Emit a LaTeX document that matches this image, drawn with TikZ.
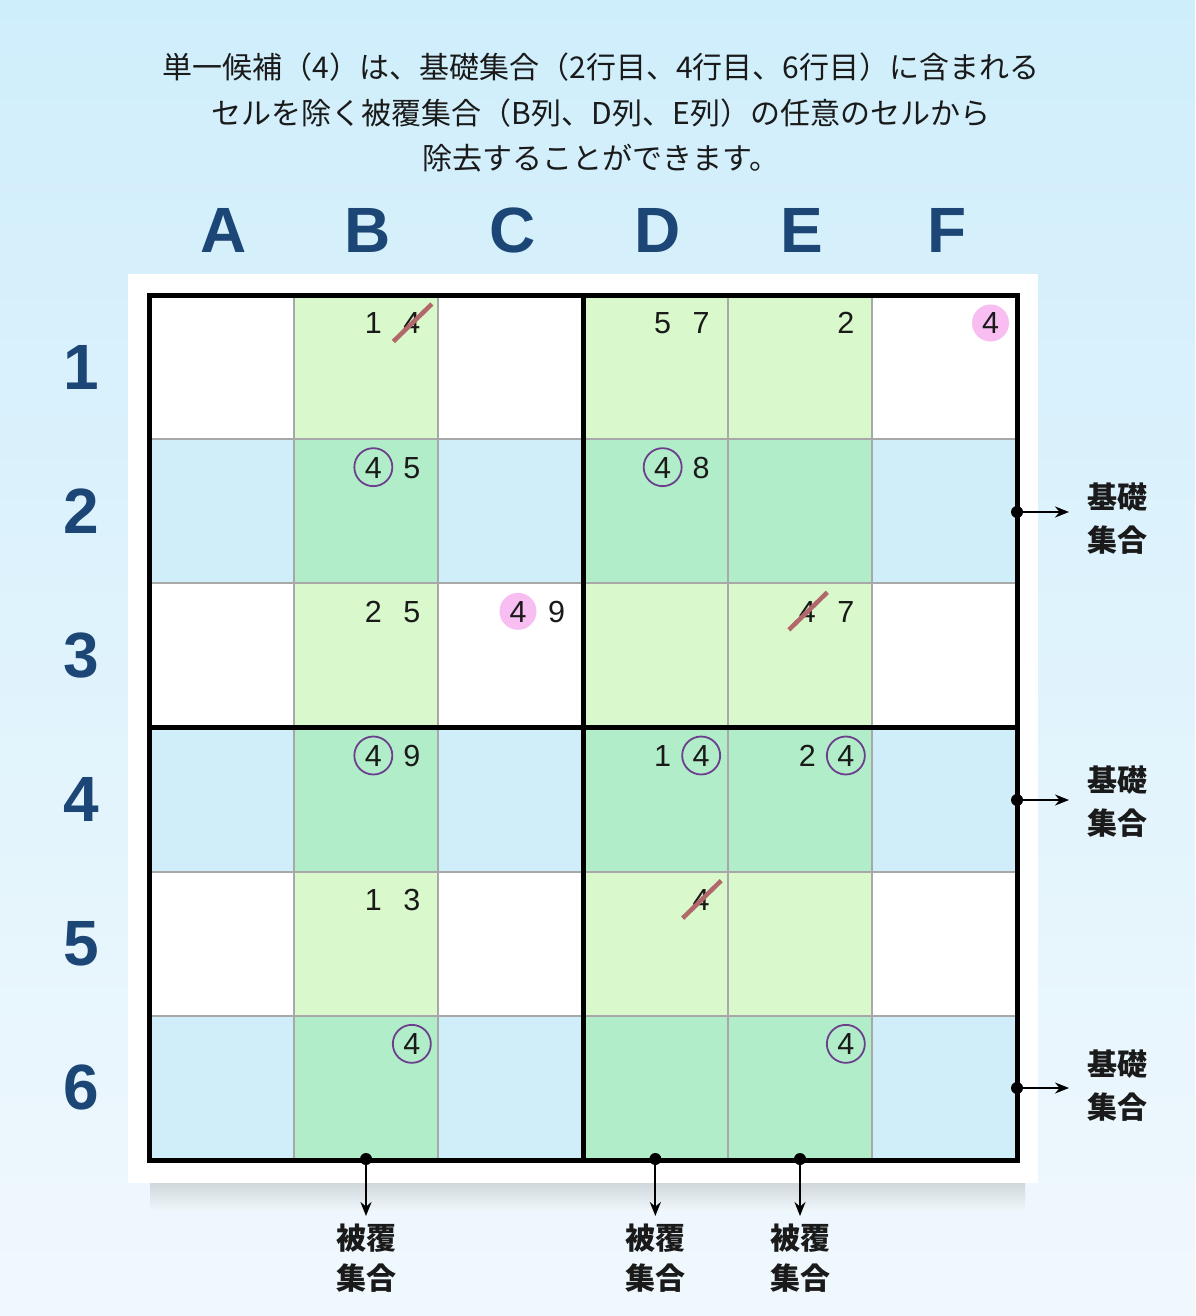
\documentclass[tikz,border=0pt]{standalone}
\usepackage{fontspec}
\setmainfont{Liberation Sans}
\newfontfamily\jp{Noto Sans CJK JP}
\usetikzlibrary{arrows.meta,calc}

\definecolor{bgtop}{RGB}{207,238,251}
\definecolor{bgbot}{RGB}{240,248,253}
\definecolor{rowblue}{RGB}{207,238,250}
\definecolor{colgreen}{RGB}{217,248,204}
\definecolor{bothgreen}{RGB}{178,237,201}
\definecolor{gridgray}{RGB}{168,168,168}
\definecolor{navy}{RGB}{28,70,118}
\definecolor{circpurple}{RGB}{107,63,140}
\definecolor{pinkc}{RGB}{248,190,242}
\definecolor{strikec}{RGB}{178,104,106}
\definecolor{ink}{RGB}{26,26,26}

\def\cw{144.667}
\def\ch{144.167}

\newcommand{\cand}[6][]{%
  \pgfmathsetmacro{\cdx}{149+(#3+1)*\cw-#5}%
  \pgfmathsetmacro{\cdy}{295+#4*\ch+28}%
  \node[cand,#1] (#2) at (\cdx,\cdy) {#6};}
\newcommand{\candstrike}[1]{%
  \draw[strikeline] ([shift={(-18.5,18.5)}]#1.center) -- ([shift={(20,-19)}]#1.center);}

\begin{document}
\begin{tikzpicture}[x=1pt,y=-1pt,
  cand/.style={font=\fontsize{30.5}{30}\selectfont, text=ink, inner sep=0pt, text height=21.8pt, text depth=0pt},
  circd/.style={circle, draw=circpurple, line width=1.8pt, minimum size=38pt},
  pinkd/.style={circle, fill=pinkc, minimum size=37pt},
  strikeline/.style={draw=strikec, line width=4.5pt},
  big/.style={font=\bfseries\fontsize{64}{64}\selectfont, text=navy, inner sep=0pt},
  title/.style={font=\jp\fontsize{30}{30}\selectfont, text=ink, inner sep=0pt},
  lab/.style={font=\jp\bfseries\fontsize{30}{43}\selectfont, text=ink, inner sep=0pt, align=center},
  labb/.style={font=\jp\bfseries\fontsize{30}{40.5}\selectfont, text=ink, inner sep=0pt, align=center},
  arr/.style={line width=2pt, draw=black, -{Stealth[length=14pt,width=11pt]}},
  thin/.style={draw=gridgray, line width=2pt},
  thick/.style={draw=black, line width=5pt}]
\useasboundingbox (0,0) rectangle (1195,1316);
% background
\shade[top color=bgtop, bottom color=bgbot] (0,0) rectangle (1195,1316);
% shadow and panel
\shade[top color=black!13!bgbot, bottom color=bgbot] (150,1183) rectangle (1025,1212);
\fill[white] (128,274) rectangle (1038,1183);

% title
\node[title] (t1) at (601,67) {単一候補（4）は、基礎集合（2行目、4行目、6行目）に含まれる};
\node[title] (t2) at (601,113) {セルを除く被覆集合（B列、D列、E列）の任意のセルから};
\node[title] (t3) at (601,158) {除去することができます。};

% column letters
\foreach \l [count=\i from 0] in {A,B,C,D,E,F}
  \node[big] (col\l) at ({149+(\i+0.5)*\cw+2},230) {\l};
% row labels
\foreach \n in {1,...,6}
  \node[big] (row\n) at (81,{295+(\n-0.5)*\ch}) {\n};

% cells
\fill[white] (149,295) rectangle (1017,1160);
\foreach \r in {1,3,5}
  \fill[rowblue] (149,{295+\r*\ch}) rectangle (1017,{295+(\r+1)*\ch});
\foreach \c in {1,3,4}
  \fill[colgreen] ({149+\c*\cw},295) rectangle ({149+(\c+1)*\cw},1160);
\foreach \c in {1,3,4}
  \foreach \r in {1,3,5}
    \fill[bothgreen] ({149+\c*\cw},{295+\r*\ch}) rectangle ({149+(\c+1)*\cw},{295+(\r+1)*\ch});
% thin lines
\foreach \i in {1,2,4,5} {
  \draw[thin] ({149+\i*\cw},295) -- ({149+\i*\cw},1160);
  \draw[thin] (149,{295+\i*\ch}) -- (1017,{295+\i*\ch});
}
% thick lines
\draw[thick] ({149+3*\cw},295) -- ({149+3*\cw},1160);
\draw[thick] (149,{295+3*\ch}) -- (1017,{295+3*\ch});
\draw[thick] (149,295) rectangle (1017,1160);

% candidates (offset 65 = left slot, 26.5 = right slot)
\cand{b1a}{1}{0}{65}{1}
\cand{b1b}{1}{0}{26.5}{4}
\cand{d1a}{3}{0}{65}{5}
\cand{d1b}{3}{0}{26.5}{7}
\cand{e1b}{4}{0}{26.5}{2}
\cand[pinkd]{f1b}{5}{0}{26.5}{4}
\cand[circd]{b2a}{1}{1}{65}{4}
\cand{b2b}{1}{1}{26.5}{5}
\cand[circd]{d2a}{3}{1}{65}{4}
\cand{d2b}{3}{1}{26.5}{8}
\cand{b3a}{1}{2}{65}{2}
\cand{b3b}{1}{2}{26.5}{5}
\cand[pinkd]{c3a}{2}{2}{65}{4}
\cand{c3b}{2}{2}{26.5}{9}
\cand{e3a}{4}{2}{65}{4}
\cand{e3b}{4}{2}{26.5}{7}
\cand[circd]{b4a}{1}{3}{65}{4}
\cand{b4b}{1}{3}{26.5}{9}
\cand{d4a}{3}{3}{65}{1}
\cand[circd]{d4b}{3}{3}{26.5}{4}
\cand{e4a}{4}{3}{65}{2}
\cand[circd]{e4b}{4}{3}{26.5}{4}
\cand{b5a}{1}{4}{65}{1}
\cand{b5b}{1}{4}{26.5}{3}
\cand{d5b}{3}{4}{26.5}{4}
\cand[circd]{b6b}{1}{5}{26.5}{4}
\cand[circd]{e6b}{4}{5}{26.5}{4}
\candstrike{b1b}
\candstrike{e3a}
\candstrike{d5b}

% base set markers (right)
\coordinate (dr2) at (1017,512);
\coordinate (dr4) at (1017,800);
\coordinate (dr6) at (1017,1088);
\coordinate (ar2) at (1069,512);
\coordinate (ar4) at (1069,800);
\coordinate (ar6) at (1069,1088);
\node[lab] (lr2) at (1117,519) {基礎\\集合};
\node[lab] (lr4) at (1117,802) {基礎\\集合};
\node[lab] (lr6) at (1117,1086) {基礎\\集合};
\foreach \k in {2,4,6} {
  \fill (dr\k) circle (6pt);
  \draw[arr] (dr\k) -- (ar\k);
}

% cover set markers (bottom)
\coordinate (dbB) at ({149+1.5*\cw},1159);
\coordinate (dbD) at ({149+3.5*\cw},1159);
\coordinate (dbE) at ({149+4.5*\cw},1159);
\coordinate (abB) at ({149+1.5*\cw},1216);
\coordinate (abD) at ({149+3.5*\cw},1216);
\coordinate (abE) at ({149+4.5*\cw},1216);
\node[labb] (lbB) at ({149+1.5*\cw},1258) {被覆\\集合};
\node[labb] (lbD) at ({149+3.5*\cw},1258) {被覆\\集合};
\node[labb] (lbE) at ({149+4.5*\cw},1258) {被覆\\集合};
\foreach \k in {B,D,E} {
  \fill (db\k) circle (6pt);
  \draw[arr] (db\k) -- (ab\k);
}
\end{tikzpicture}
\end{document}
